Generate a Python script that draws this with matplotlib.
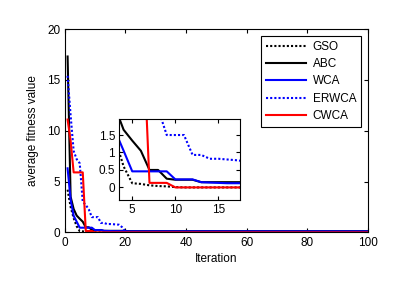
import matplotlib
matplotlib.use("Agg")
import matplotlib.pyplot as plt
import numpy as np

plt.rcParams['font.family'] = ['Liberation Sans', 'DejaVu Sans']

iterations = list(range(1, 101))

# values (iterations 1..20 explicit, then flat plateaus)
gso = [4.2, 2.5, 1.4, 0.6, 0.12, 0.10, 0.06, 0.04, 0.03, 0.01] + [0.0] * 90
abc = [17.3, 3.5, 2.3, 1.65, 1.34, 1.05, 0.5, 0.5, 0.25, 0.22,
       0.22, 0.22, 0.15, 0.15, 0.15, 0.15, 0.15, 0.15, 0.15, 0.15] + [0.12] * 80
wca = [6.3, 3.2, 1.63, 1.05, 0.46, 0.46, 0.46, 0.46, 0.46, 0.23,
       0.23, 0.23, 0.15, 0.14, 0.13, 0.12, 0.12, 0.12, 0.12, 0.12] + [0.1] * 80
erwca = [15.4, 11.5, 8.0, 7.2, 6.8, 3.0, 2.7, 2.25, 1.5, 1.5,
         1.5, 0.93, 0.93, 0.82, 0.82, 0.8, 0.78, 0.75, 0.5, 0.1] + [0.03] * 80
cwca = [11.1, 9.0, 5.9, 5.9, 5.9, 5.9, 0.13, 0.13, 0.13, 0.0] + [0.0] * 90

DOT = (0, (1, 1))
series = [
    ("GSO", gso, "black", DOT),
    ("ABC", abc, "black", "-"),
    ("WCA", wca, "blue", "-"),
    ("ERWCA", erwca, "blue", DOT),
    ("CWCA", cwca, "red", "-"),
]

FS = 8.5

fig = plt.figure(figsize=(4.06, 2.82), dpi=100)
ax = fig.add_axes([0.159, 0.176, 0.747, 0.721])
for name, vals, col, ls in series:
    ax.plot(iterations, vals, color=col, linestyle=ls, linewidth=1.5, label=name)
ax.set_xlim(0, 100)
ax.set_ylim(0, 20)
ax.set_xticks([0, 20, 40, 60, 80, 100])
ax.set_yticks([0, 5, 10, 15, 20])
ax.tick_params(direction='in', length=3, labelsize=FS, top=True, right=True, pad=3)
ax.set_xlabel("Iteration", fontsize=FS, labelpad=3)
ax.set_ylabel("average fitness value", fontsize=FS, labelpad=6)
for s in ax.spines.values():
    s.set_linewidth(0.8)

leg = ax.legend(loc='upper right', bbox_to_anchor=(361 / 406, 1 - 36 / 282),
                bbox_transform=fig.transFigure, borderaxespad=0, fontsize=FS,
                handlelength=3.4, handletextpad=0.55, labelspacing=0.45,
                borderpad=0.4, fancybox=False, framealpha=1, edgecolor='black')
leg.get_frame().set_linewidth(0.8)

ins = fig.add_axes([119.3 / 406, 1 - 200 / 282, 120.7 / 406, 80.7 / 282])
for name, vals, col, ls in series:
    ins.plot(iterations, vals, color=col, linestyle=ls, linewidth=1.5)
ins.set_xlim(3.5, 17.5)
ins.set_ylim(-0.36, 1.95)
ins.set_xticks([5, 10, 15])
ins.set_yticks([0, 0.5, 1, 1.5])
ins.set_yticklabels(["0", "0.5", "1", "1.5"])
ins.tick_params(direction='in', length=3, labelsize=FS, top=True, right=True, pad=3)
for s in ins.spines.values():
    s.set_linewidth(0.8)

fig.savefig("out.png", dpi=100)
